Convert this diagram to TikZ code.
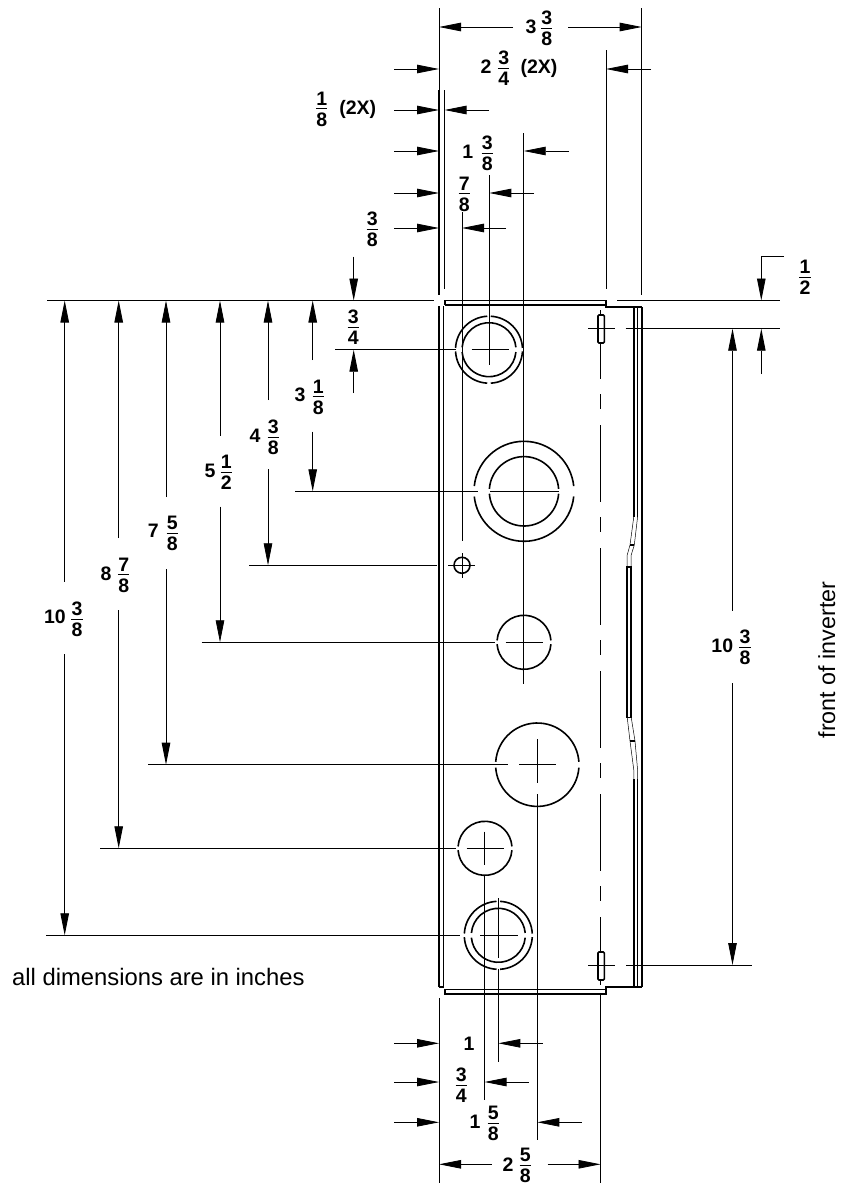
\documentclass[tikz,border=0pt]{standalone}
\usepackage{fontspec}
\setmainfont{Liberation Sans}
\usetikzlibrary{arrows.meta}

\newcommand{\frc}[2]{\vbox{\offinterlineskip\hbox to 11.5pt{\hss#1\hss}\kern3.2pt\hrule height .8pt\kern3.2pt\hbox to 11.5pt{\hss#2\hss}}}
% circle broken at left and right
\newcommand{\ringarcs}[4]{%
  \draw[outline] (#1,#2) ++(#4:#3) arc[start angle=#4,end angle=180-#4,radius=#3];
  \draw[outline] (#1,#2) ++(180+#4:#3) arc[start angle=180+#4,end angle=360-#4,radius=#3];}
% circle broken at left, right, top and bottom
\newcommand{\quadarcs}[4]{%
  \draw[outline] (#1,#2) ++(#4:#3) arc[start angle=#4,end angle=90-#4,radius=#3];
  \draw[outline] (#1,#2) ++(90+#4:#3) arc[start angle=90+#4,end angle=180-#4,radius=#3];
  \draw[outline] (#1,#2) ++(180+#4:#3) arc[start angle=180+#4,end angle=270-#4,radius=#3];
  \draw[outline] (#1,#2) ++(270+#4:#3) arc[start angle=270+#4,end angle=360-#4,radius=#3];}

\tikzset{
  outline/.style={line width=1.6pt},
  thinline/.style={line width=.8pt},
  jogline/.style={line width=.5pt},
  dimtext/.style={inner sep=0pt,font=\fontsize{19.5}{20}\selectfont\bfseries},
  plaintext/.style={inner sep=0pt,font=\fontsize{23.8}{26}\selectfont},
}

\begin{document}
\begin{tikzpicture}[x=1pt,y=-1pt,>={Triangle[length=22pt,width=8.5pt]}]
  \useasboundingbox (0,0) rectangle (845,1186);

  % box
  \draw[outline] (47,300.5) -- (434,300.5);
  \draw[outline] (445,305) -- (445,300.5) -- (606,300.5) -- (606,307) -- (642,307);
  \draw[outline] (445,305) -- (606,305);
  \draw[outline] (439,306) -- (439,987);
  \draw[outline] (443.3,306) -- (443.3,987) -- (439,987);
  \draw[outline] (445,989) -- (445,994) -- (606,994) -- (606,987) -- (642,987);
  \draw[outline] (445,989.3) -- (606,989.3);
  \draw[outline] (641.7,307) -- (641.7,987);
  \draw[outline] (633.8,307) -- (633.8,516.7);
  \draw[outline] (637.6,307) -- (637.6,516.7);
  \draw[outline] (627.2,567) rectangle (631.2,717.3);
  \draw[outline] (633.8,779) -- (633.8,987);
  \draw[outline] (637.6,779) -- (637.6,987);
  % jogs
  \draw[jogline] (633.8,516.7) -- (630,545) -- (627.2,555) -- (627.2,567);
  \draw[jogline] (637.6,516.7) -- (634.3,545) -- (631.2,555) -- (631.2,567);
  \draw[outline] (630,545) -- (634.3,545);
  \draw[jogline] (627.2,717.3) -- (630,741) -- (633.8,770) -- (633.8,779);
  \draw[jogline] (631.2,717.3) -- (635,741) -- (637.6,770) -- (637.6,779);
  \draw[outline] (630,741) -- (635,741);

  % slots and centre line
  \draw[thinline,dash pattern=on 77pt off 15pt on 15pt off 16pt,dash phase=8pt] (600.7,310) -- (600.7,985);
  \draw[outline,fill=white,rounded corners=1pt] (598,315) rectangle (604.3,343);
  \draw[outline,fill=white,rounded corners=1pt] (598,952) rectangle (604.3,980);
  \draw[thinline] (588,328.7) -- (615,328.7);
  \draw[thinline] (625.5,328.7) -- (780,328.7);
  \draw[thinline] (588,965) -- (615,965);
  \draw[thinline] (626,965) -- (752,965);
  \draw[thinline] (617,300.5) -- (780,300.5);

  % holes
  \quadarcs{489}{349.7}{33.5}{3}
  \ringarcs{489}{349.7}{27}{5}
  \ringarcs{524}{491.3}{50}{6}
  \ringarcs{524}{491.3}{34.7}{4}
  \draw[outline] (462,565.3) circle[radius=8];
  \ringarcs{524}{642.3}{27}{4}
  \ringarcs{537.3}{764.7}{41.7}{4}
  \ringarcs{485}{848.3}{27}{4}
  \quadarcs{498.3}{935.3}{34}{3}
  \ringarcs{498.3}{935.3}{27}{5}

  % centre marks, horizontal
  \draw[thinline] (335,349.7) -- (456,349.7);
  \draw[thinline] (471.7,349.7) -- (509,349.7);
  \draw[thinline] (295,491.3) -- (478,491.3);
  \draw[thinline] (490,491.3) -- (559,491.3);
  \draw[thinline] (249.3,565.3) -- (436.7,565.3);
  \draw[thinline] (448,565.3) -- (475,565.3);
  \draw[thinline] (201.7,642.3) -- (495,642.3);
  \draw[thinline] (505.7,642.3) -- (542.7,642.3);
  \draw[thinline] (148,764.7) -- (508.3,764.7);
  \draw[thinline] (519.3,764.7) -- (556,764.7);
  \draw[thinline] (100,848.3) -- (455.7,848.3);
  \draw[thinline] (466.7,848.3) -- (504,848.3);
  \draw[thinline] (46.3,935.3) -- (460,935.3);
  \draw[thinline] (480,935.3) -- (518,935.3);

  % extension lines, top
  \draw[thinline] (439,8) -- (439,90);
  \draw[outline] (439,90) -- (439,295);
  \draw[thinline] (641.7,8) -- (641.7,295);
  \draw[thinline] (606,50) -- (606,289);
  \draw[thinline] (444.5,90) -- (444.5,289);
  \draw[thinline] (523.7,133) -- (523.7,684);
  \draw[thinline] (489.3,175) -- (489.3,365);
  \draw[thinline] (462,212) -- (462,541);
  \draw[thinline] (462,553) -- (462,578);

  % extension lines, bottom
  \draw[thinline] (537.3,739.3) -- (537.3,783);
  \draw[thinline] (537.3,794) -- (537.3,1140);
  \draw[thinline] (484.5,831.7) -- (484.5,865);
  \draw[thinline] (484.5,875) -- (484.5,1100);
  \draw[thinline] (498.3,898) -- (498.3,958);
  \draw[thinline] (498.3,969) -- (498.3,1062);
  \draw[thinline] (439,998) -- (439,1183);
  \draw[thinline] (600.5,994) -- (600.5,1183);

  % top dimensions
  \foreach \y in {69,110,151,193,228}
    \draw[thinline,->] (394,\y) -- (439,\y);
  \draw[thinline,->] (513,27) -- (439,27);
  \draw[thinline,->] (568,27) -- (641.7,27);
  \draw[thinline,->] (651,69) -- (606,69);
  \draw[thinline,->] (489,110) -- (444.5,110);
  \draw[thinline,->] (569,151) -- (523.7,151);
  \draw[thinline,->] (534,193) -- (489.3,193);
  \draw[thinline,->] (506,228) -- (462,228);

  % left dimensions
  \draw[thinline,->] (64.7,581.7) -- (64.7,300.5);
  \draw[thinline,->] (64.7,654) -- (64.7,935.3);
  \draw[thinline,->] (118.7,538) -- (118.7,300.5);
  \draw[thinline,->] (118.7,610) -- (118.7,848.3);
  \draw[thinline,->] (166,497) -- (166,300.5);
  \draw[thinline,->] (166,569) -- (166,764.7);
  \draw[thinline,->] (220,435.7) -- (220,300.5);
  \draw[thinline,->] (220,506.7) -- (220,642.3);
  \draw[thinline,->] (268,400) -- (268,300.5);
  \draw[thinline,->] (268,469.3) -- (268,565.3);
  \draw[thinline,->] (312.7,360) -- (312.7,300.5);
  \draw[thinline,->] (312.7,431.7) -- (312.7,491.3);
  \draw[thinline,->] (353.7,256.7) -- (353.7,300.5);
  \draw[thinline,->] (353.7,393) -- (353.7,349.7);

  % right dimensions
  \draw[thinline,->] (784,256) -- (761.3,256) -- (761.3,300.5);
  \draw[thinline,->] (761.3,374) -- (761.3,328.7);
  \draw[thinline,->] (732.5,610.7) -- (732.5,328.7);
  \draw[thinline,->] (732.5,683.3) -- (732.5,965);

  % bottom dimensions
  \foreach \y in {1043.3,1082,1122.3}
    \draw[thinline,->] (394,\y) -- (439,\y);
  \draw[thinline,->] (542.7,1043.3) -- (498.3,1043.3);
  \draw[thinline,->] (528.7,1082) -- (484.5,1082);
  \draw[thinline,->] (581.7,1122.3) -- (537.3,1122.3);
  \draw[thinline,->] (491.7,1164.3) -- (439,1164.3);
  \draw[thinline,->] (547.7,1164.3) -- (600.5,1164.3);

  % labels
  \node[dimtext] (whole33) at (531,27) {3};
  \node[dimtext] (frac33) at (546.7,28) {\frc{3}{8}};
  \node[dimtext] (whole24) at (486,67) {2};
  \node[dimtext] (frac24) at (503.7,68) {\frc{3}{4}};
  \node[dimtext] (times24) at (539,68.5) {(2X)};
  \node[dimtext] (frac18) at (321.7,109) {\frc{1}{8}};
  \node[dimtext] (times18) at (357.7,109) {(2X)};
  \node[dimtext] (whole13) at (467.7,152) {1};
  \node[dimtext] (frac13) at (487.3,153) {\frc{3}{8}};
  \node[dimtext] (frac78) at (464.3,194) {\frc{7}{8}};
  \node[dimtext] (frac38) at (372.3,229) {\frc{3}{8}};
  \node[dimtext] (frac12) at (805,277) {\frc{1}{2}};
  \node[dimtext] (frac34) at (353.3,327) {\frc{3}{4}};
  \node[dimtext] (whole31) at (300,395) {3};
  \node[dimtext] (frac31) at (318.3,397) {\frc{1}{8}};
  \node[dimtext] (whole43) at (255,436) {4};
  \node[dimtext] (frac43) at (273.3,437) {\frc{3}{8}};
  \node[dimtext] (whole51) at (210,470.7) {5};
  \node[dimtext] (frac51) at (226.3,472) {\frc{1}{2}};
  \node[dimtext] (whole75) at (153.3,531) {7};
  \node[dimtext] (frac75) at (172.3,533) {\frc{5}{8}};
  \node[dimtext] (whole87) at (106,574) {8};
  \node[dimtext] (frac87) at (123.7,575) {\frc{7}{8}};
  \node[dimtext] (whole103) at (55,617) {10};
  \node[dimtext] (frac103) at (77,619) {\frc{3}{8}};
  \node[dimtext] (rwhole103) at (722.3,646) {10};
  \node[dimtext] (rfrac103) at (745,647) {\frc{3}{8}};
  \node[dimtext] (whole1) at (469,1044) {1};
  \node[dimtext] (frac1) at (461.3,1085) {\frc{3}{4}};
  \node[dimtext] (whole15) at (475,1122) {1};
  \node[dimtext] (frac15) at (493.3,1123) {\frc{5}{8}};
  \node[dimtext] (whole25) at (508,1165) {2};
  \node[dimtext] (frac25) at (525.3,1165.5) {\frc{5}{8}};

  \node[plaintext,anchor=base west] (inchnote) at (12,985.7) {all dimensions are in inches};
  \node[plaintext,anchor=base,rotate=90,font=\fontsize{23.3}{26}\selectfont] (frontnote) at (835,660) {front of inverter};
\end{tikzpicture}
\end{document}
